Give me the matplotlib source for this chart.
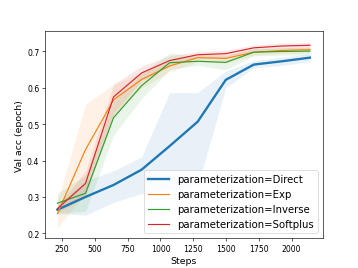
import numpy as np
import matplotlib
matplotlib.use('Agg')
import matplotlib.pyplot as plt

steps = [214, 428, 642, 856, 1070, 1284, 1498, 1712, 1926, 2140]

# mean val acc per parameterization
direct = [0.265, 0.300, 0.333, 0.375, 0.440, 0.507, 0.622, 0.664, 0.673, 0.683]
exp_ = [0.254, 0.430, 0.567, 0.623, 0.660, 0.683, 0.681, 0.698, 0.703, 0.705]
inverse = [0.283, 0.310, 0.518, 0.606, 0.669, 0.673, 0.670, 0.698, 0.700, 0.701]
softplus = [0.268, 0.337, 0.575, 0.641, 0.675, 0.691, 0.694, 0.710, 0.715, 0.717]

# confidence bands (low / high)
direct_lo = [0.255, 0.250, 0.285, 0.310, 0.320, 0.330, 0.600, 0.655, 0.662, 0.672]
direct_hi = [0.278, 0.345, 0.372, 0.410, 0.587, 0.587, 0.646, 0.675, 0.684, 0.693]
exp_lo = [0.215, 0.310, 0.525, 0.600, 0.645, 0.672, 0.668, 0.690, 0.695, 0.697]
exp_hi = [0.290, 0.554, 0.610, 0.642, 0.675, 0.693, 0.692, 0.706, 0.711, 0.713]
inverse_lo = [0.255, 0.260, 0.470, 0.570, 0.650, 0.662, 0.650, 0.688, 0.690, 0.690]
inverse_hi = [0.310, 0.360, 0.560, 0.640, 0.696, 0.686, 0.688, 0.708, 0.710, 0.711]
softplus_lo = [0.258, 0.300, 0.530, 0.620, 0.660, 0.682, 0.685, 0.702, 0.708, 0.709]
softplus_hi = [0.276, 0.370, 0.610, 0.660, 0.688, 0.700, 0.703, 0.718, 0.723, 0.725]

labels = ['parameterization=Direct', 'parameterization=Exp',
          'parameterization=Inverse', 'parameterization=Softplus']
colors = ['#1f77b4', '#ff7f0e', '#2ca02c', '#d62728']

fig, ax = plt.subplots(figsize=(6.4, 4.8), dpi=56)

series = [(direct, direct_lo, direct_hi), (exp_, exp_lo, exp_hi),
          (inverse, inverse_lo, inverse_hi), (softplus, softplus_lo, softplus_hi)]
for i, (m, lo, hi) in enumerate(series):
    lw = 3 if i == 0 else 1.5
    ax.plot(steps, m, color=colors[i], linewidth=lw, label=labels[i])
    ax.fill_between(steps, lo, hi, color=colors[i], alpha=0.1, linewidth=0)

ax.set_xticks([250, 500, 750, 1000, 1250, 1500, 1750, 2000])
ax.set_yticks([0.2, 0.3, 0.4, 0.5, 0.6, 0.7])
ax.set_ylim(0.186, 0.755)
ax.tick_params(labelsize=10)
ax.set_xlabel('Steps', fontsize=12)
ax.set_ylabel('Val acc (epoch)', fontsize=12)
ax.legend(loc='lower right', fontsize=13)

fig.savefig('out.png', dpi=56)
